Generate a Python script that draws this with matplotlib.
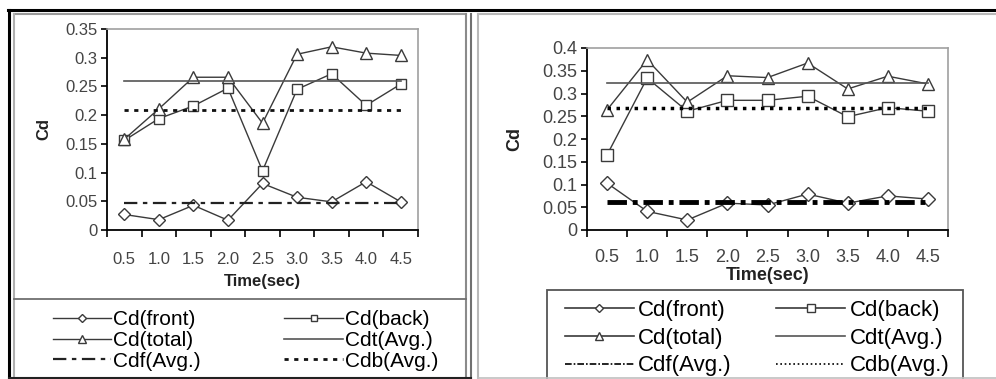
import matplotlib.pyplot as plt
from matplotlib.lines import Line2D
from matplotlib.patches import Rectangle

plt.rcParams['font.family'] = ['Liberation Sans', 'DejaVu Sans']

# datos
tiempos = ["0.5", "1.0", "1.5", "2.0", "2.5", "3.0", "3.5", "4.0", "4.5"]

izq_front = [0.027, 0.018, 0.043, 0.017, 0.081, 0.057, 0.049, 0.084, 0.049]
izq_back = [0.156, 0.194, 0.216, 0.247, 0.103, 0.245, 0.272, 0.217, 0.254]
izq_total = [0.158, 0.211, 0.266, 0.266, 0.186, 0.306, 0.319, 0.308, 0.304]
izq_cdt = 0.259
izq_cdb = 0.209
izq_cdf = 0.047
izq_yticks = [0, 0.05, 0.1, 0.15, 0.2, 0.25, 0.3, 0.35]
izq_ylabels = ["0", "0.05", "0.1", "0.15", "0.2", "0.25", "0.3", "0.35"]

der_front = [0.103, 0.041, 0.022, 0.059, 0.055, 0.079, 0.059, 0.075, 0.068]
der_back = [0.165, 0.334, 0.261, 0.285, 0.285, 0.294, 0.249, 0.269, 0.261]
der_total = [0.264, 0.374, 0.281, 0.339, 0.335, 0.367, 0.310, 0.338, 0.321]
der_cdt = 0.324
der_cdb = 0.268
der_cdf = 0.062
der_yticks = [0, 0.05, 0.1, 0.15, 0.2, 0.25, 0.3, 0.35, 0.4]
der_ylabels = ["0", "0.05", "0.1", "0.15", "0.2", "0.25", "0.3", "0.35", "0.4"]

etiquetas = ["Cd(front)", "Cd(back)", "Cd(total)", "Cdt(Avg.)", "Cdf(Avg.)", "Cdb(Avg.)"]

W, H = 996, 379


def fx(x):
    return x / W


def fy(y):
    return 1 - y / H


def caja(x0, y0, x1, y1):
    return [fx(x0), fy(y1), fx(x1) - fx(x0), fy(y0) - fy(y1)]


def linea(fig, x0, y0, x1, y1, color, lw):
    fig.add_artist(Line2D([fx(x0), fx(x1)], [fy(y0), fy(y1)], color=color,
                          lw=lw, transform=fig.transFigure))


def panel(ax, front, back, total, cdt, cdb, cdf, yticks, ylabels, ymax,
          tam, ms, pad, gruesa=False):
    x = list(range(len(tiempos)))
    oscuro = "#3a3a3a"
    lf, = ax.plot(x, front, color=oscuro, lw=1.0, marker="D", ms=ms - 1,
                  mfc="white", mec=oscuro, mew=1.0)
    lb, = ax.plot(x, back, color=oscuro, lw=1.0, marker="s", ms=ms,
                  mfc="white", mec=oscuro, mew=1.0)
    lt, = ax.plot(x, total, color=oscuro, lw=1.0, marker="^", ms=ms + 1,
                  mfc="white", mec=oscuro, mew=1.0)
    n = len(x) - 1
    lcdt, = ax.plot([0, n], [cdt, cdt], color="#555555", lw=1.2)
    if gruesa:
        lcdf, = ax.plot([0, n], [cdf, cdf], color="black", lw=3.5,
                        dashes=(4, 1.2, 1, 1.2))
        lcdb, = ax.plot([0, n], [cdb, cdb], color="black", lw=2.5,
                        dashes=(1, 1.6))
    else:
        lcdf, = ax.plot([0, n], [cdf, cdf], color="#222222", lw=1.6,
                        dashes=(6, 2.5, 2, 2.5))
        lcdb, = ax.plot([0, n], [cdb, cdb], color="#111111", lw=2.0,
                        dashes=(1.5, 2.0))

    ax.set_xlim(-0.5, n + 0.5)
    ax.set_ylim(0, ymax)
    ax.set_xticks(x)
    ax.set_xticklabels(tiempos, fontsize=tam, color="#444444")
    ax.set_xticks([i - 0.5 for i in range(len(x) + 1)], minor=True)
    ax.tick_params(axis="x", which="major", length=0, pad=pad)
    ax.tick_params(axis="x", which="minor", length=5, width=1.2,
                   direction="out", color="black")
    ax.set_yticks(yticks)
    ax.set_yticklabels(ylabels, fontsize=tam, color="#444444")
    ax.tick_params(axis="y", length=4, width=1.2, direction="out",
                   color="black", pad=3)
    for lado in ["top", "right"]:
        ax.spines[lado].set_color("#a0a0a0")
        ax.spines[lado].set_linewidth(1.2)
    for lado in ["left", "bottom"]:
        ax.spines[lado].set_color("black")
        ax.spines[lado].set_linewidth(1.3)
    ax.set_xlabel("Time(sec)", fontsize=tam, fontweight="bold",
                  color="#222222", labelpad=5)
    ax.set_ylabel("Cd", fontsize=tam, fontweight="bold", color="#222222")
    # orden por columnas: front, total, cdf | back, cdt, cdb
    handles = [lf, lt, lcdf, lb, lcdt, lcdb]
    labels = [etiquetas[0], etiquetas[2], etiquetas[4],
              etiquetas[1], etiquetas[3], etiquetas[5]]
    return handles, labels


fig = plt.figure(figsize=(W / 100, H / 100), dpi=100)

# marcos de los paneles
linea(fig, 8, 10, W, 10, "black", 2.2)
linea(fig, 9, 10, 9, H, "black", 2.2)
linea(fig, 14, 14, 466, 14, "#9a9a9a", 1.5)
linea(fig, 14, 14, 14, H, "#b0b0b0", 1.5)
linea(fig, 466, 14, 466, H, "#8a8a8a", 1.5)
linea(fig, 471, 14, 471, H, "#707070", 1.5)
linea(fig, 478, 14, 478, H, "#b8b8b8", 1.5)
linea(fig, 478, 14, W, 14, "#b8b8b8", 1.5)
linea(fig, 14, 299, 466, 299, "#707070", 1.3)
linea(fig, 9, 378, 471, 378, "#222222", 1.5)
linea(fig, 478, 378, W, 378, "#c0c0c0", 1.2)

ax1 = fig.add_axes(caja(107, 29, 418, 230))
h1, l1 = panel(ax1, izq_front, izq_back, izq_total, izq_cdt, izq_cdb,
               izq_cdf, izq_yticks, izq_ylabels, 0.35, 12, 7, 16)
ax1.yaxis.set_label_coords(-0.18, 0.5)

ax2 = fig.add_axes(caja(587, 48, 948, 230))
h2, l2 = panel(ax2, der_front, der_back, der_total, der_cdt, der_cdb,
               der_cdf, der_yticks, der_ylabels, 0.4, 13, 8, 14, gruesa=True)
ax2.yaxis.set_label_coords(-0.177, 0.5)
ax2.xaxis.set_label_coords(0.5, -0.205)

leg1 = fig.legend(h1, l1, loc="upper left", bbox_to_anchor=(fx(53), fy(310)),
                  ncol=2, frameon=False, fontsize=15, handlelength=2.8,
                  handletextpad=0.1, columnspacing=4.0, labelspacing=0.09,
                  borderpad=0, borderaxespad=0, markerscale=0.7)

rect = Rectangle((fx(547), fy(380)), fx(963) - fx(547), fy(290) - fy(380),
                 transform=fig.transFigure, fill=False, edgecolor="#555555",
                 lw=1.3)
fig.add_artist(rect)
leg2 = fig.legend(h2, l2, loc="upper left", bbox_to_anchor=(fx(565), fy(300)),
                  ncol=2, frameon=False, fontsize=16, handlelength=3.1,
                  handletextpad=0.2, columnspacing=2.0, labelspacing=0.3,
                  borderpad=0, borderaxespad=0, markerscale=0.65)
for h in leg2.legend_handles:
    h.set_linewidth(1.2)

fig.savefig("out.png", dpi=100)
